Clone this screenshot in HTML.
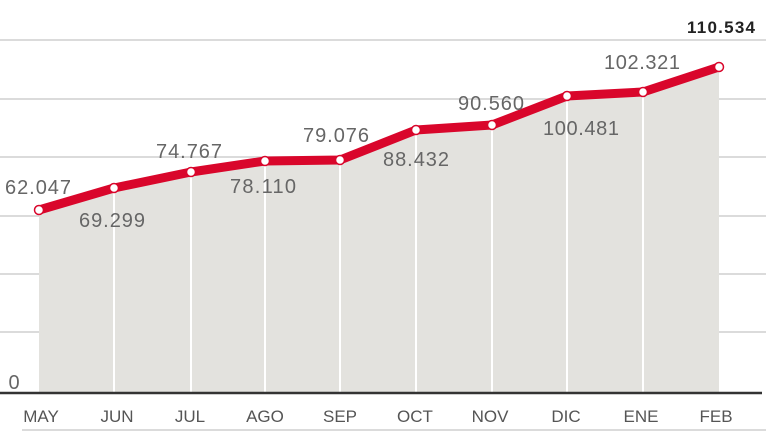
<!DOCTYPE html>
<html><head><meta charset="utf-8"><style>html,body{margin:0;padding:0;background:#fff;}svg{display:block}</style></head>
<body>
<svg width="768" height="432" viewBox="0 0 768 432" xmlns="http://www.w3.org/2000/svg" font-family="Liberation Sans, sans-serif">
<g stroke="#cfcfcf" stroke-width="1.5">
<line x1="0" y1="40" x2="766" y2="40"/>
<line x1="0" y1="99" x2="766" y2="99"/>
<line x1="0" y1="157" x2="766" y2="157"/>
<line x1="0" y1="216" x2="766" y2="216"/>
<line x1="0" y1="274" x2="766" y2="274"/>
<line x1="0" y1="332" x2="766" y2="332"/>
<line x1="22" y1="430" x2="766" y2="430"/>
</g>
<polygon fill="#e3e2de" points="39,210 114,188 191,172 265,161 340,160 416,130 492,125 567,96 643,92 719,67 719,393 39,393"/>
<g stroke="#fff" stroke-width="2">
<line x1="114" y1="188" x2="114" y2="392"/><line x1="191" y1="172" x2="191" y2="392"/>
<line x1="265" y1="161" x2="265" y2="392"/><line x1="340" y1="160" x2="340" y2="392"/>
<line x1="416" y1="130" x2="416" y2="392"/><line x1="492" y1="125" x2="492" y2="392"/>
<line x1="567" y1="96" x2="567" y2="392"/><line x1="643" y1="92" x2="643" y2="392"/>
</g>
<line x1="0" y1="393" x2="762" y2="393" stroke="#333" stroke-width="2.5"/>
<polyline fill="none" stroke="#d9062b" stroke-width="9" stroke-linejoin="round" points="39,210 114,188 191,172 265,161 340,160 416,130 492,125 567,96 643,92 719,67"/>
<g fill="#fff" stroke="#d9062b" stroke-width="1.5">
<circle cx="39" cy="210" r="4.5"/><circle cx="114" cy="188" r="4.5"/><circle cx="191" cy="172" r="4.5"/>
<circle cx="265" cy="161" r="4.5"/><circle cx="340" cy="160" r="4.5"/><circle cx="416" cy="130" r="4.5"/>
<circle cx="492" cy="125" r="4.5"/><circle cx="567" cy="96" r="4.5"/><circle cx="643" cy="92" r="4.5"/>
<circle cx="719" cy="67" r="4.5"/>
</g>
<g fill="#666" font-size="20" text-anchor="middle" textLength="66">
<text x="38" y="194" textLength="66">62.047</text>
<text x="112" y="227" textLength="66">69.299</text>
<text x="189" y="158" textLength="66">74.767</text>
<text x="263" y="193" textLength="66">78.110</text>
<text x="336" y="142" textLength="66">79.076</text>
<text x="416" y="166" textLength="66">88.432</text>
<text x="491" y="110" textLength="66">90.560</text>
<text x="581" y="135" textLength="76">100.481</text>
<text x="642" y="69" textLength="76">102.321</text>
<text x="14" y="389">0</text>
</g>
<text x="721" y="33" font-size="17" font-weight="bold" fill="#222" text-anchor="middle" textLength="68">110.534</text>
<g fill="#555" font-size="17" text-anchor="middle">
<text x="41" y="422">MAY</text><text x="117" y="422">JUN</text><text x="190" y="422">JUL</text>
<text x="265" y="422">AGO</text><text x="340" y="422">SEP</text><text x="415" y="422">OCT</text>
<text x="490" y="422">NOV</text><text x="566" y="422">DIC</text><text x="641" y="422">ENE</text>
<text x="716" y="422">FEB</text>
</g>
</svg>
</body></html>
